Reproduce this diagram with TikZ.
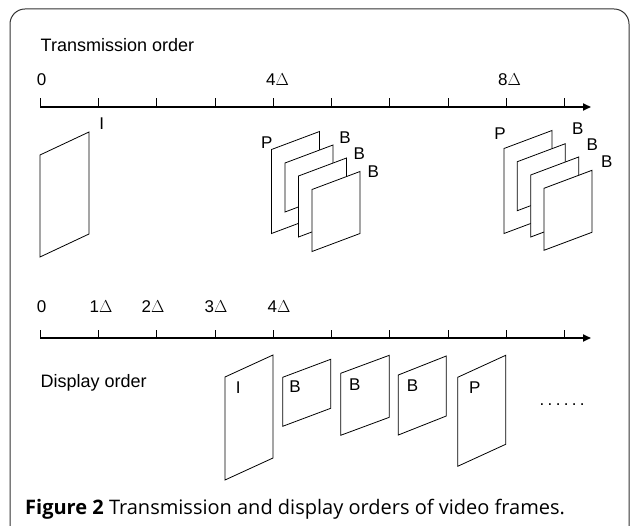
\documentclass[tikz,border=0pt]{standalone}
\usepackage{fontspec}
\setmainfont{Liberation Sans}
\newfontfamily\capfont{Open Sans}
\usetikzlibrary{arrows.meta, calc}

% one video frame: x, y of the top left corner, width, rise, height
\newcommand{\vframe}[5]{%
	\draw[frm] (#1,#2) -- ++(#3,-#4) -- ++(0,#5) -- ++(-#3,#4) -- cycle;}

\begin{document}
\begin{tikzpicture}[
	x=1pt, y=-1pt,
	frm/.style={draw=black, fill=white, line width=0.8pt},
	axis/.style={line width=1.7pt, -{Triangle[length=8pt, width=7pt]}},
	tick/.style={line width=0.8pt},
	lbl/.style={font=\fontsize{17}{20}\selectfont, inner sep=0pt, anchor=base},
	title/.style={font=\fontsize{18}{21}\selectfont, inner sep=0pt, anchor=base west},
]
	\useasboundingbox (0,0) rectangle (630,526);

	% Outer box, open at the bottom of the picture
	\draw[line width=1pt, black!80, rounded corners=15pt] (10,560) -- (10,9) -- (629,9) -- (629,560);

	% Transmission order: time axis
	\node[title] (ttitle) at (40.5,51.7) {Transmission order};
	\coordinate (t0) at (40,107);
	\coordinate (tend) at (591,107);
	\draw[axis] (t0) -- (tend);
	\foreach \i in {0, ..., 9} {
		\draw[tick] ($(t0) + (\i*58.3,0)$) -- ++(0,-9);
	}
	\node[lbl] (tl0) at (41.5,86) {0};
	\node[lbl] (tl4) at (277.5,86) {4\(\Delta\)};
	\node[lbl] (tl8) at (509.5,86) {8\(\Delta\)};

	% Transmitted frames: I, then P with its B frames
	\vframe{40}{155}{49}{23}{102}
	\node[lbl] (tI) at (101.7,130) {I};
	\foreach \x/\y/\h in {271.5/149.5/84, 285/163/49, 298.5/176/61, 312/189.5/62} {
		\vframe{\x}{\y}{48}{18}{\h}
	}
	\node[lbl] (tP1) at (266.7,148.3) {P};
	\node[lbl] (tB1) at (345,144) {B};
	\node[lbl] (tB2) at (359.3,159.3) {B};
	\node[lbl] (tB3) at (373.3,177.3) {B};
	\foreach \x/\y/\h in {504/148.5/85, 517.3/161.7/49, 530.7/175/62, 544/188.3/62} {
		\vframe{\x}{\y}{48}{18}{\h}
	}
	\node[lbl] (tP2) at (500,140) {P};
	\node[lbl] (tB4) at (577.7,135) {B};
	\node[lbl] (tB5) at (592.3,150.7) {B};
	\node[lbl] (tB6) at (606.7,167.3) {B};

	% Display order: time axis
	\coordinate (d0) at (40,338);
	\coordinate (dend) at (591,338);
	\draw[axis] (d0) -- (dend);
	\foreach \i in {0, ..., 9} {
		\draw[tick] ($(d0) + (\i*58.3,0)$) -- ++(0,-8);
	}
	\foreach \x/\t [count=\k] in {41.5/0, 101/1\(\Delta\), 153/2\(\Delta\), 216/3\(\Delta\), 279/4\(\Delta\)} {
		\node[lbl] (dl\k) at (\x,313) {\t};
	}
	\node[title] (dtitle) at (40.5,387.3) {Display order};

	% Displayed frames
	\vframe{225}{377}{48}{22}{103}
	\vframe{282.7}{377.3}{48}{18}{49}
	\vframe{340.7}{373.3}{48.6}{18}{62}
	\vframe{398.3}{375}{48}{19}{60}
	\vframe{457.7}{377.3}{48}{22}{89}
	\node[lbl] (dI) at (238.3,393.3) {I};
	\node[lbl] (dB1) at (295,392.7) {B};
	\node[lbl] (dB2) at (354.7,390.7) {B};
	\node[lbl] (dB3) at (412.5,391.7) {B};
	\node[lbl] (dP) at (474.7,394) {P};
	\node[lbl, anchor=base west] (dots) at (539.5,405.5) {.\kern3.3pt.\kern3.3pt.\kern3.3pt.\kern3.3pt.\kern3.3pt.};

	% Caption
	\node[inner sep=0pt, anchor=base west, font=\capfont\fontsize{20}{23}\selectfont] (cap) at (25,515)
		{\textbf{Figure 2} Transmission and display orders of video frames.};
\end{tikzpicture}
\end{document}
